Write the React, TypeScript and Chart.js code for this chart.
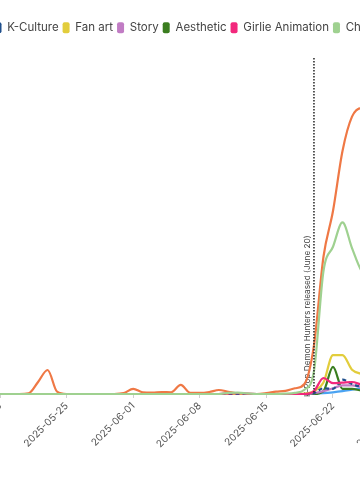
import React, { useEffect, useRef } from 'react';
import { Chart, registerables } from 'chart.js';

Chart.register(...registerables);

// ---------- data ----------
const START_DATE = '2025-05-17';
const DAY_COUNT = 60;

function buildDates(start: string, n: number): string[] {
  const out: string[] = [];
  const base = new Date(start + 'T00:00:00Z').getTime();
  for (let i = 0; i < n; i++) {
    out.push(new Date(base + i * 86400000).toISOString().slice(0, 10));
  }
  return out;
}
const dates = buildDates(START_DATE, DAY_COUNT);

const seriesNames = ['K-Culture', 'Fan art', 'Story', 'Aesthetic', 'Girlie Animation', 'Characters', 'Music', 'Dance'];
const seriesColors = ['#1f4f8c', '#e2cd3c', '#c17cc4', '#3a7d1f', '#f2287c', '#9fd190', '#ef7845', '#4aa3f2'];

const kCulture = [
  0, 0, 0, 0, 0, 0, 0, 0, 0, 0,
  0, 0, 0, 0, 0, 0, 0, 0, 0, 0,
  0, 0, 0, 0, 0, 0, 0, 0, 0, 0,
  0, 0, 0, 0, 0.3, 2, 1.8, 5, 3.5, 2.5,
  2.3, 2.2, 2, 1.9, 1.8, 1.7, 1.6, 1.6, 1.5, 1.5,
  1.4, 1.4, 1.3, 1.3, 1.2, 1.2, 1.2, 1.1, 1.1, 1.0,
];
const fanArt = [
  0, 0, 0, 0, 0, 0, 0, 0, 0, 0,
  0, 0, 0, 0, 0, 0, 0, 0, 0, 0,
  0, 0, 0, 0, 0, 0, 0, 0, 0, 0,
  0, 0, 0, 0.1, 1, 4, 13.6, 13.6, 8.5, 7,
  6, 5.5, 5, 4.6, 4.3, 4, 3.8, 3.6, 3.4, 3.2,
  3, 2.9, 2.8, 2.7, 2.6, 2.5, 2.4, 2.3, 2.2, 2.1,
];
const story = [
  0, 0, 0, 0, 0, 0, 0, 0, 0, 0,
  0, 0, 0, 0, 0, 0, 0, 0, 0, 0,
  0, 0, 0, 0, 0, 0, 0, 0, 0, 0,
  0, 0, 0, 0, 0.3, 1, 2, 3, 3, 2.5,
  2.4, 2.3, 2.2, 2.1, 2, 1.9, 1.8, 1.8, 1.7, 1.6,
  1.6, 1.5, 1.5, 1.4, 1.4, 1.3, 1.3, 1.2, 1.2, 1.1,
];
const aesthetic = [
  0, 0, 0, 0, 0, 0, 0, 0, 0, 0,
  0, 0, 0, 0, 0, 0, 0, 0, 0, 0,
  0, 0, 0, 0, 0, 0, 0, 0, 0, 0,
  0, 0, 0, 0, 0, 1, 9.5, 1.8, 1.8, 1.2,
  1.1, 1, 1, 0.9, 0.9, 0.8, 0.8, 0.8, 0.7, 0.7,
  0.7, 0.6, 0.6, 0.6, 0.6, 0.5, 0.5, 0.5, 0.5, 0.5,
];
const girlieAnimation = [
  0, 0, 0, 0, 0, 0, 0, 0, 0, 0,
  0, 0, 0, 0, 0, 0, 0, 0, 0, 0,
  0, 0, 0, 0, 0, 0.2, 0.3, 0.1, 0, 0,
  0, 0, 0, 0, 1, 5.6, 3.8, 4, 4.2, 3.3,
  3, 2.8, 2.6, 2.5, 2.4, 2.3, 2.2, 2.1, 2, 1.9,
  1.8, 1.8, 1.7, 1.7, 1.6, 1.6, 1.5, 1.5, 1.4, 1.4,
];
const characters = [
  0, 0, 0, 0, 0, 0, 0, 0, 0, 0,
  0, 0, 0, 0, 0, 0, 0, 0, 0, 0,
  0, 0, 0, 0, 0, 0.4, 0.45, 0.2, 0, 0,
  0, 0.1, 0.4, 1.5, 8, 43, 51.5, 60, 51, 43,
  40, 37, 35, 33, 31, 29, 27, 26, 25, 24,
  23, 22, 21, 20, 19, 18, 18, 17, 16, 16,
];
const music = [
  0, 0, 0, 0, 0.2, 4.2, 8.4, 0.8, 0, 0,
  0, 0, 0, 0, 0.3, 1.8, 0.6, 0.5, 0.7, 0.6,
  3.2, 0.4, 0.4, 0.7, 1.4, 0.8, 0.2, 0, 0, 0.3,
  0.8, 1.1, 2, 3.5, 17, 48, 64, 85, 97, 100,
  98, 93, 88, 84, 79, 75, 70, 66, 63, 60,
  57, 54, 52, 50, 48, 46, 45, 43, 42, 41,
];
const dance = [
  0, 0, 0, 0, 0, 0, 0, 0, 0, 0,
  0, 0, 0, 0, 0, 0, 0, 0, 0, 0,
  0, 0, 0, 0, 0, 0, 0, 0, 0, 0,
  0, 0, 0, 0, 0.2, 0.3, 0.6, 1, 1.5, 2,
  2.2, 2.3, 2.3, 2.2, 2.1, 2, 1.9, 1.8, 1.8, 1.7,
  1.6, 1.6, 1.5, 1.5, 1.4, 1.4, 1.3, 1.3, 1.2, 1.2,
];
const seriesValues = [kCulture, fanArt, story, aesthetic, girlieAnimation, characters, music, dance];
const seriesOrder = [2, 2, 2, 2, 1, 0, 2, 2];

const RELEASE_DATE = '2025-06-20';
const RELEASE_LABEL = 'K-Pop Demon Hunters released (June 20)';
const Y_MAX = 117.5;

// ---------- layout ----------
const CANVAS_W = 580;
const CANVAS_H = 500;
const CANVAS_LEFT = -10;
const FONT = 'Inter, "Noto Sans", sans-serif';

const releasePlugin = {
  id: 'releaseLine',
  beforeDatasetsDraw(chart: any) {
    const { ctx, chartArea, scales } = chart;
    const idx = chart.data.labels.indexOf(RELEASE_DATE);
    const x = scales.x.getPixelForValue(idx);
    ctx.save();
    ctx.translate(x - 2.5, chartArea.bottom + 3);
    ctx.rotate(-Math.PI / 2);
    ctx.font = '8.2px ' + FONT;
    ctx.fillStyle = '#444';
    ctx.textAlign = 'left';
    ctx.textBaseline = 'bottom';
    ctx.fillText(RELEASE_LABEL, 0, 0);
    ctx.restore();
  },
  afterDatasetsDraw(chart: any) {
    const { ctx, chartArea, scales } = chart;
    const idx = chart.data.labels.indexOf(RELEASE_DATE);
    const x = scales.x.getPixelForValue(idx);
    ctx.save();
    ctx.strokeStyle = '#222';
    ctx.lineWidth = 1.5;
    ctx.setLineDash([1.5, 1.5]);
    ctx.beginPath();
    ctx.moveTo(x, chartArea.top);
    ctx.lineTo(x, chartArea.bottom);
    ctx.stroke();
    ctx.restore();
  },
};

export default function App() {
  const canvasRef = useRef<HTMLCanvasElement | null>(null);

  useEffect(() => {
    if (!canvasRef.current) return;
    const datasets = seriesNames.map((name, i) => ({
      label: name,
      data: seriesValues[i],
      borderColor: seriesColors[i],
      backgroundColor: seriesColors[i],
      borderWidth: 2.2,
      borderDash: name === 'K-Culture' ? [4, 3] : [],
      pointRadius: 0,
      pointHoverRadius: 0,
      cubicInterpolationMode: 'monotone' as const,
      fill: false,
      clip: false as any,
      order: seriesOrder[i],
    }));

    const chart = new Chart(canvasRef.current, {
      type: 'line',
      data: { labels: dates, datasets },
      options: {
        responsive: false,
        animation: false,
        devicePixelRatio: 1,
        layout: { padding: { top: 18, left: 0.5, right: 18.2, bottom: 0 } },
        plugins: {
          tooltip: { enabled: false },
          legend: {
            position: 'top',
            align: 'start',
            labels: {
              boxWidth: 7,
              boxHeight: 11,
              useBorderRadius: true,
              borderRadius: 2,
              padding: 4,
              color: '#444',
              font: { family: FONT, size: 11.5 },
              generateLabels: (c: any) =>
                (Chart.defaults.plugins.legend.labels as any)
                  .generateLabels(c)
                  .map((l: any) => ({ ...l, lineWidth: 0, lineDash: [] })),
              sort: (a: any, b: any) => a.datasetIndex - b.datasetIndex,
            },
          },
        },
        scales: {
          x: {
            type: 'category',
            offset: false,
            grid: { display: true, drawOnChartArea: false, drawTicks: true, tickLength: 4, color: '#d0d0d0' },
            border: { display: false },
            ticks: {
              autoSkip: false,
              maxRotation: 45,
              minRotation: 45,
              padding: 2,
              color: '#555',
              font: { family: FONT, size: 10 },
              callback: (_v: any, index: number) => {
                const lbl = dates[index];
                return new Date(lbl + 'T00:00:00Z').getUTCDay() === 0 ? lbl : null;
              },
            },
            afterFit: (s: any) => {
              s.height = 106;
              s.paddingLeft = 0;
              s.paddingRight = 0;
            },
          },
          xTop: {
            type: 'category',
            position: 'top',
            display: true,
            grid: { display: false },
            border: { display: false },
            ticks: { display: false },
            afterFit: (s: any) => {
              s.height = 14.5;
              s.paddingLeft = 0;
              s.paddingRight = 0;
            },
          },
          y: { display: false, min: 0, max: Y_MAX },
        },
      } as any,
      plugins: [releasePlugin],
    });
    return () => chart.destroy();
  }, []);

  return (
    <div style={{ position: 'fixed', left: 0, top: 0, width: 360, height: 500, overflow: 'hidden', background: '#fff' }}>
      <div style={{ position: 'absolute', left: CANVAS_LEFT, top: 0, width: CANVAS_W, height: CANVAS_H }}>
        <canvas ref={canvasRef} width={CANVAS_W} height={CANVAS_H} style={{ width: CANVAS_W, height: CANVAS_H, display: 'block' }} />
      </div>
    </div>
  );
}
